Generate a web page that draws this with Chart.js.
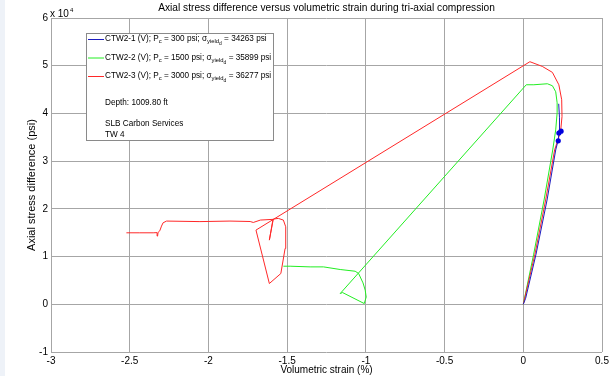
<!DOCTYPE html>
<html>
<head>
<meta charset="utf-8">
<script src="https://cdn.jsdelivr.net/npm/chart.js@4.4.1/dist/chart.umd.min.js"></script>
<style>
  html, body { margin: 0; padding: 0; background: #ffffff; }
  #wrap { position: relative; width: 615px; height: 376px; }
  canvas { display: block; }
</style>
</head>
<body>
<div id="wrap"><canvas id="c" width="615" height="376"></canvas></div>
<script>
// ---- Data (volumetric strain in %, axial stress difference in psi) ----
const seriesNames = ['CTW2-1 (V)', 'CTW2-2 (V)', 'CTW2-3 (V)'];
const confiningPressures = [300, 1500, 3000];
const yieldStrengths = [34263, 35899, 36277];

const ctw1Strain = [0, 0.015, 0.081, 0.151, 0.206, 0.222, 0.228, 0.230, 0.225];
const ctw1Stress = [0, 1260, 10500, 21850, 32350, 34450, 36550, 39080, 42020];

const ctw2Strain = [0, 0.066, 0.132, 0.187, 0.206, 0.215, 0.215, 0.206, 0.185, 0.153, 0.067, 0.019,
  -1.163, -1.148, -1.010, -0.998, -1.004, -1.018, -1.046, -1.068, -1.163, -1.269, -1.354, -1.481, -1.524];
const ctw2Stress = [0, 10500, 21850, 32350, 36550, 40130, 42230, 44540, 45800, 46220, 46010, 46010,
  2250, 2460, 150, 1530, 2940, 4480, 6450, 6930, 7290, 7840, 7840, 7980, 7980];

const ctw3Strain = [0, 0.074, 0.142, 0.199, 0.220, 0.237, 0.246, 0.244, 0.226, 0.185, 0.121, 0.042,
  -1.698, -1.613, -1.540, -1.513, -1.509, -1.524, -1.556, -1.588, -1.613, -1.590, -1.670, -1.715, -1.735,
  -1.863, -2.054, -2.266, -2.288, -2.298, -2.309, -2.320, -2.323, -2.326, -2.351, -2.436, -2.521];
const ctw3Stress = [0, 10500, 21850, 32350, 34450, 36200, 39350, 42860, 46000, 48600, 49850, 50840,
  15550, 4350, 6450, 11700, 16240, 17650, 18000, 17860, 13450, 17800, 17650, 17150, 17350,
  17440, 17330, 17440, 17080, 16390, 15400, 15060, 14290, 15020, 14980, 14980, 14980];

const yieldStrain = [0.222, 0.226, 0.240];
const yieldStress = yieldStrengths;

const xMin = -3, xMax = 0.5, xStep = 0.5;
const yMin = -10000, yMax = 60000, yStep = 10000;
const yMultiplierExp = 4;

const titleText = 'Axial stress difference versus volumetric strain during tri-axial compression';
const xTitle = 'Volumetric strain (%)';
const yTitle = 'Axial stress difference (psi)';
const depthText = 'Depth: 1009.80 ft';
const noteLines = ['SLB Carbon Services', 'TW 4'];

const seriesColors = ['#1c1cc0', '#22ee22', '#ff2828'];

// ---- Build ----
const pts = (xs, ys) => xs.map((x, i) => ({x: x, y: ys[i]}));
const FONT = '"Liberation Sans", Arial, Helvetica, sans-serif';

function drawRich(ctx, x, y, parts, base) {
  let cx = x;
  for (const p of parts) {
    const lvl = p.s || 0;
    const size = lvl === 0 ? base : (lvl === 1 ? base * 0.72 : base * 0.6);
    const dy = lvl === 0 ? 0 : (lvl === 1 ? base * 0.35 : base * 0.6);
    ctx.font = size + 'px ' + FONT;
    ctx.fillText(p.t, cx, y + dy);
    cx += ctx.measureText(p.t).width;
  }
}

const overlay = {
  id: 'overlay',
  beforeDraw(chart) {
    const ctx = chart.ctx;
    ctx.save();
    ctx.fillStyle = '#ffffff';
    ctx.fillRect(0, 0, chart.width, chart.height);
    ctx.fillStyle = '#eef2f8';
    ctx.fillRect(0, 0, 5, chart.height);
    ctx.restore();
  },
  afterDraw(chart) {
    const ctx = chart.ctx;
    const ca = chart.chartArea;
    ctx.save();
    ctx.fillStyle = '#000';
    ctx.textBaseline = 'middle';
    // title
    ctx.font = '10.2px ' + FONT;
    ctx.textAlign = 'center';
    ctx.fillText(titleText, (ca.left + ca.right) / 2, 8);
    // exponent multiplier
    ctx.textAlign = 'left';
    ctx.font = '10px ' + FONT;
    ctx.fillText('x 10', ca.left - 1, 14);
    const w = ctx.measureText('x 10').width;
    ctx.font = '6px ' + FONT;
    ctx.fillText(String(yMultiplierExp), ca.left - 1 + w + 1, 10);

    // legend box
    const bx = 86.5, by = 33.5, bw = 187, bh = 107;
    ctx.fillStyle = '#ffffff';
    ctx.fillRect(bx, by, bw, bh);
    ctx.strokeStyle = '#8a8a8a';
    ctx.lineWidth = 1;
    ctx.strokeRect(bx, by, bw, bh);
    const rows = [39, 57.5, 76];
    for (let i = 0; i < seriesNames.length; i++) {
      ctx.strokeStyle = seriesColors[i];
      ctx.beginPath();
      ctx.moveTo(88, rows[i] + 0.5);
      ctx.lineTo(104, rows[i] + 0.5);
      ctx.stroke();
      ctx.fillStyle = '#000';
      drawRich(ctx, 105, rows[i], [
        {t: seriesNames[i] + '; P'}, {t: 'c', s: 1},
        {t: ' = ' + confiningPressures[i] + ' psi; \u03C3'}, {t: 'yield', s: 1}, {t: 'd', s: 2},
        {t: ' = ' + yieldStrengths[i] + ' psi'}
      ], 8.2);
    }
    ctx.font = '8.2px ' + FONT;
    ctx.fillStyle = '#000';
    ctx.fillText(depthText, 105, 102.5);
    ctx.fillText(noteLines[0], 105, 124);
    ctx.fillText(noteLines[1], 105, 135);
    ctx.restore();
  }
};

const tickFont = {family: FONT, size: 10};

new Chart(document.getElementById('c'), {
  type: 'scatter',
  data: {
    datasets: [
      {label: 'yield', data: pts(yieldStrain, yieldStress), showLine: false, pointRadius: 2.6,
        pointBackgroundColor: '#0000dd', pointBorderColor: '#0000dd', pointBorderWidth: 0, order: 0},
      {label: seriesNames[0], data: pts(ctw1Strain, ctw1Stress), showLine: true, borderColor: seriesColors[0],
        borderWidth: 1, pointRadius: 0, tension: 0, order: 1},
      {label: seriesNames[2], data: pts(ctw3Strain, ctw3Stress), showLine: true, borderColor: seriesColors[2],
        borderWidth: 1, pointRadius: 0, tension: 0, order: 2},
      {label: seriesNames[1], data: pts(ctw2Strain, ctw2Stress), showLine: true, borderColor: seriesColors[1],
        borderWidth: 1, pointRadius: 0, tension: 0, order: 3}
    ]
  },
  options: {
    responsive: false,
    animation: false,
    devicePixelRatio: 1,
    layout: {padding: {left: 0, right: 13, top: 18, bottom: 0}},
    plugins: {legend: {display: false}, title: {display: false}, tooltip: {enabled: false}},
    scales: {
      x: {
        type: 'linear', min: xMin, max: xMax,
        ticks: {stepSize: xStep, font: tickFont, color: '#000', padding: 3, maxRotation: 0, autoSkip: false,
          callback: v => String(Math.round(v * 100) / 100)},
        grid: {color: '#a6a6a6', drawTicks: false, lineWidth: 1},
        border: {display: false},
        title: {display: true, text: xTitle, font: {family: FONT, size: 10}, color: '#000', padding: {top: 0, bottom: 0}},
        afterFit(s) { s.height = 24; s.paddingLeft = 0; s.paddingRight = 0; }
      },
      y: {
        type: 'linear', min: yMin, max: yMax,
        ticks: {stepSize: yStep, font: tickFont, color: '#000', padding: 3,
          callback: v => String(v / Math.pow(10, yMultiplierExp))},
        grid: {color: '#a6a6a6', drawTicks: false, lineWidth: 1},
        border: {display: false},
        title: {display: true, text: yTitle, font: {family: FONT, size: 11}, color: '#000', padding: {top: 25, bottom: 0}},
        afterFit(s) { s.width = 51; s.paddingTop = 0; s.paddingBottom = 0; }
      }
    }
  },
  plugins: [overlay]
});
</script>
</body>
</html>
